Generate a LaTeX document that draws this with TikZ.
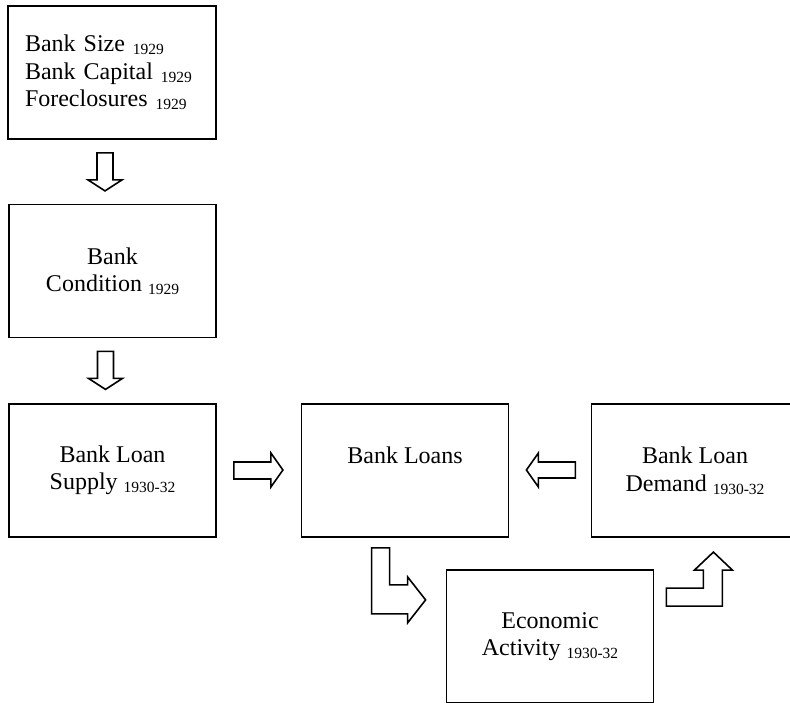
\documentclass[tikz,border=0pt]{standalone}
\usepackage{fontspec}
\setmainfont{Liberation Serif}
\usetikzlibrary{calc}

\newcommand{\yr}[1]{\raisebox{-3pt}{\fontsize{15.5}{15.5}\selectfont #1}}

\begin{document}
\begin{tikzpicture}[x=1pt,y=-1pt,
    box/.style={draw, line width=1.8pt, minimum width=207pt, minimum height=133pt,
      inner sep=0pt, align=center, font=\fontsize{24}{27.5}\selectfont},
    blockarrow/.style={draw, line width=1.6pt, fill=white, line join=miter}]
  \useasboundingbox (0,0) rectangle (790,702);

  \node[box, align=left, text width=174pt, inner xsep=17pt] (size) at (112,72.5)
    {Bank Size \yr{1929}\\Bank Capital \yr{1929}\\Foreclosures \yr{1929}};
  \node[box] (cond) at (112.5,271) {Bank\\Condition \yr{1929}};
  \node[box] (supply) at (112.5,470.5) {Bank Loan\\Supply \yr{1930-32}};
  \node[box, text depth=31pt] (loans) at (405,470.5) {Bank Loans};
  \node[box] (demand) at (695,470.5) {Bank Loan\\Demand \yr{1930-32}};
  \node[box] (econ) at (550,636.5) {Economic\\Activity \yr{1930-32}};

  % down arrows
  \draw[blockarrow] ([shift={(-15,13)}]size.south) -- ++(16,0) -- ++(0,27) -- ++(9,0)
    -- ++(-17,11) -- ++(-17,-11) -- ++(9,0) -- cycle;
  \draw[blockarrow] ([shift={(-15,13)}]cond.south) -- ++(16,0) -- ++(0,27) -- ++(9,0)
    -- ++(-17,11) -- ++(-17,-11) -- ++(9,0) -- cycle;

  % supply and demand into loans
  \draw[blockarrow] ([shift={(17,-8.5)}]supply.east) -- ++(37,0) -- ++(0,-9) -- ++(12,17)
    -- ++(-12,17) -- ++(0,-8) -- ++(-37,0) -- cycle;
  \draw[blockarrow] ([shift={(66,-8.5)}]loans.east) -- ++(-37,0) -- ++(0,-9) -- ++(-12,17)
    -- ++(12,17) -- ++(0,-9) -- ++(37,0) -- cycle;

  % loans to activity, activity to demand
  \draw[blockarrow] ([shift={(71,10)}]loans.south west) -- ++(18,0) -- ++(0,37) -- ++(18,0)
    -- ++(0,-8) -- ++(18,23) -- ++(-18,23) -- ++(0,-9) -- ++(-36,0) -- cycle;
  \draw[blockarrow] ([shift={(12,19)}]econ.north east) -- ++(37,0) -- ++(0,-18) -- ++(-9,0)
    -- ++(19,-18) -- ++(19,18) -- ++(-10,0) -- ++(0,36) -- ++(-56,0) -- cycle;
\end{tikzpicture}
\end{document}
